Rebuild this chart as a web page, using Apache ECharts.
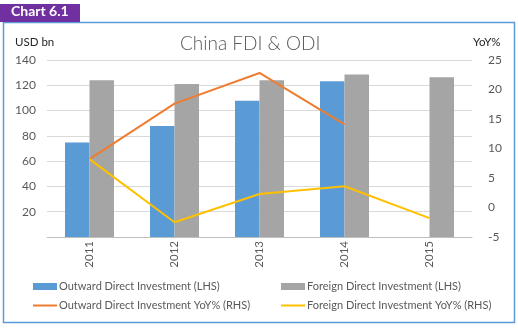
<!DOCTYPE html>
<html>
<head>
<meta charset="utf-8">
<script src="https://cdn.jsdelivr.net/npm/echarts@6/dist/echarts.min.js"></script>
<style>
  html, body { margin: 0; padding: 0; background: #fff; }
  #chart { width: 518px; height: 328px; }
</style>
</head>
<body>
<div id="chart"></div>
<script>
// China outward and inward direct investment, USD bn, with year-on-year growth
const years = ['2011', '2012', '2013', '2014', '2015'];
const odiValues = [74.7, 87.8, 107.8, 123.1, null];
const fdiValues = [124.0, 121.1, 123.9, 128.5, 126.3];
const odiYoY = [8.2, 17.6, 22.8, 14.1, null];
const fdiYoY = [8.2, -2.5, 2.3, 3.6, -1.8];

const seriesNames = [
  'Outward Direct Investment (LHS)',
  'Foreign Direct Investment (LHS)',
  'Outward Direct Investment YoY% (RHS)',
  'Foreign Direct Investment YoY% (RHS)'
];

const FONT = 'Lato, "Open Sans", sans-serif';
const TEXT = '#595959';

const chart = echarts.init(document.getElementById('chart'), null, { renderer: 'canvas' });

const legendText = { color: TEXT, fontSize: 11, fontFamily: FONT, padding: [0, 0, 0, -3] };

// one legend per entry so each can sit in its own cell of the 2x2 key
function legendCell(name, left, top, isBar) {
  return {
    left: left, top: top, padding: 0, itemWidth: 24, itemHeight: isBar ? 7 : 2,
    icon: 'rect', textStyle: legendText, data: [name]
  };
}

chart.setOption({
  animation: false,
  backgroundColor: '#ffffff',
  color: ['#5B9BD5', '#A5A5A5', '#ED7D31', '#FFC000'],
  title: {
    text: 'China FDI & ODI',
    left: 175,
    top: 29,
    textStyle: { color: TEXT, fontSize: 19, fontWeight: 300, fontFamily: FONT }
  },
  graphic: [
    { type: 'rect', shape: { x: 3.5, y: 22.5, width: 511, height: 300 },
      style: { fill: 'none', stroke: '#5B9BD5', lineWidth: 1.5 } },
    { type: 'rect', shape: { x: 0, y: 4, width: 80, height: 18 },
      style: { fill: '#7030A0' } },
    { type: 'text', left: 11, top: 4,
      style: { text: 'Chart 6.1', fill: '#ffffff', font: 'bold 14px ' + FONT } },
    { type: 'text', left: 15, top: 36,
      style: { text: 'USD bn', fill: '#262626', font: '11.5px ' + FONT } },
    { type: 'text', left: 473, top: 36,
      style: { text: 'YoY%', fill: '#262626', font: '11.5px ' + FONT } }
  ],
  legend: [
    legendCell(seriesNames[0], 33, 281, true),
    legendCell(seriesNames[1], 281, 281, true),
    legendCell(seriesNames[2], 33, 300, false),
    legendCell(seriesNames[3], 281, 300, false)
  ],
  grid: { left: 47, right: 46, top: 60, bottom: 91, containLabel: false },
  xAxis: {
    type: 'category',
    data: years,
    axisLine: { lineStyle: { color: '#BFBFBF' } },
    axisTick: { show: false },
    axisLabel: { rotate: 90, color: TEXT, fontSize: 11.5, fontFamily: FONT, margin: 4 }
  },
  yAxis: [
    {
      type: 'value', min: 0, max: 140, interval: 20,
      axisLine: { show: false }, axisTick: { show: false },
      splitLine: { lineStyle: { color: '#D9D9D9' } },
      axisLabel: { color: TEXT, fontSize: 12, fontFamily: FONT, margin: 11,
        formatter: v => (v === 0 ? '' : String(v)) }
    },
    {
      type: 'value', min: -5, max: 25, interval: 5,
      axisLine: { show: false }, axisTick: { show: false },
      splitLine: { show: false },
      axisLabel: { color: TEXT, fontSize: 12, fontFamily: FONT, margin: 16 }
    }
  ],
  series: [
    { name: seriesNames[0], type: 'bar', data: odiValues, barWidth: 24.5, barGap: '0%' },
    { name: seriesNames[1], type: 'bar', data: fdiValues, barWidth: 24.5, barGap: '0%' },
    { name: seriesNames[2], type: 'line', yAxisIndex: 1, data: odiYoY, symbol: 'none',
      lineStyle: { width: 2 } },
    { name: seriesNames[3], type: 'line', yAxisIndex: 1, data: fdiYoY, symbol: 'none',
      lineStyle: { width: 2 } }
  ]
});
</script>
</body>
</html>
